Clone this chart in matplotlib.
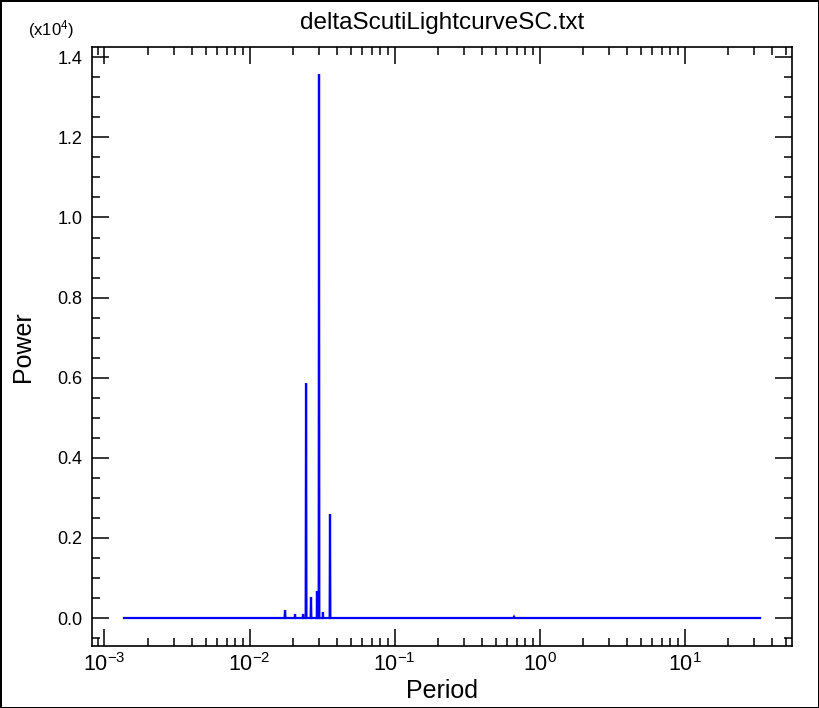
import matplotlib
matplotlib.use("Agg")
import matplotlib.pyplot as plt
from matplotlib.ticker import LogLocator, MultipleLocator, FuncFormatter
import math

plt.rcParams['font.family'] = ['Liberation Sans', 'DejaVu Sans']
plt.rcParams['axes.unicode_minus'] = False
plt.rcParams['mathtext.fontset'] = 'custom'
plt.rcParams['mathtext.rm'] = 'Liberation Sans'
plt.rcParams['mathtext.it'] = 'Liberation Sans'

# Periodogram (period in days, power)
period = [0.001362, 0.01745, 0.01758, 0.01771, 0.0205, 0.0206, 0.0207,
          0.0233, 0.0234, 0.0235, 0.0244, 0.02454, 0.0247,
          0.0264, 0.02655, 0.0267, 0.0291, 0.0292, 0.0293,
          0.0300, 0.03015, 0.0303, 0.0320, 0.0321, 0.0322,
          0.0357, 0.0359, 0.0361, 0.66, 0.667, 0.674, 33.2]
power = [0, 0, 200, 0, 0, 100, 0,
         0, 100, 0, 0, 5865, 0,
         0, 525, 0, 0, 675, 0,
         0, 13580, 0, 0, 150, 0,
         0, 2595, 0, 0, 30, 0, 0]

title = "deltaScutiLightcurveSC.txt"
xlabel = "Period"
ylabel = "Power"
yticks = [0, 2000, 4000, 6000, 8000, 10000, 12000, 14000]

W, H = 819, 708
fig = plt.figure(figsize=(W / 100, H / 100), dpi=100)
fig.patch.set_facecolor('white')
fig.patch.set_edgecolor('black')
fig.patch.set_linewidth(2)

ax = fig.add_axes([92 / W, (H - 646) / H, 700 / W, 599 / H])
ax.plot(period, power, color='#0000ff', lw=1.6, solid_joinstyle='miter')

ax.set_xscale('log')
ax.set_xlim(8.2e-4, 55.1)
ax.set_ylim(-699, 14257)

ax.set_yticks(yticks)
ax.yaxis.set_minor_locator(MultipleLocator(500))
ax.yaxis.set_major_formatter(FuncFormatter(lambda v, p: f"{v / 1e4:.1f}"))
ax.xaxis.set_major_locator(LogLocator(base=10, numticks=20))
ax.xaxis.set_minor_locator(LogLocator(base=10, subs=range(2, 10), numticks=100))
ax.xaxis.set_major_formatter(FuncFormatter(
    lambda v, p: "$\\mathregular{10^{%d}}$" % round(math.log10(v))))

ax.tick_params(which='both', direction='in', top=True, right=True,
               labelsize=13, color='black', width=1.1)
ax.tick_params(axis='x', which='major', labelsize=15.5)
ax.tick_params(which='major', length=12, pad=7)
ax.tick_params(axis='x', which='major', pad=5)
ax.tick_params(which='minor', length=6)
for s in ax.spines.values():
    s.set_linewidth(1.2)

ax.set_title(title, fontsize=17.5, pad=13)
ax.set_xlabel(xlabel, fontsize=18, labelpad=2)
ax.set_ylabel(ylabel, fontsize=18, labelpad=16)
fig.text(28 / W, 1 - 30 / H, "(x10$^4$)", fontsize=12, ha='left', va='center')

fig.savefig("out.png", dpi=100, facecolor=fig.get_facecolor(),
            edgecolor=fig.get_edgecolor())
